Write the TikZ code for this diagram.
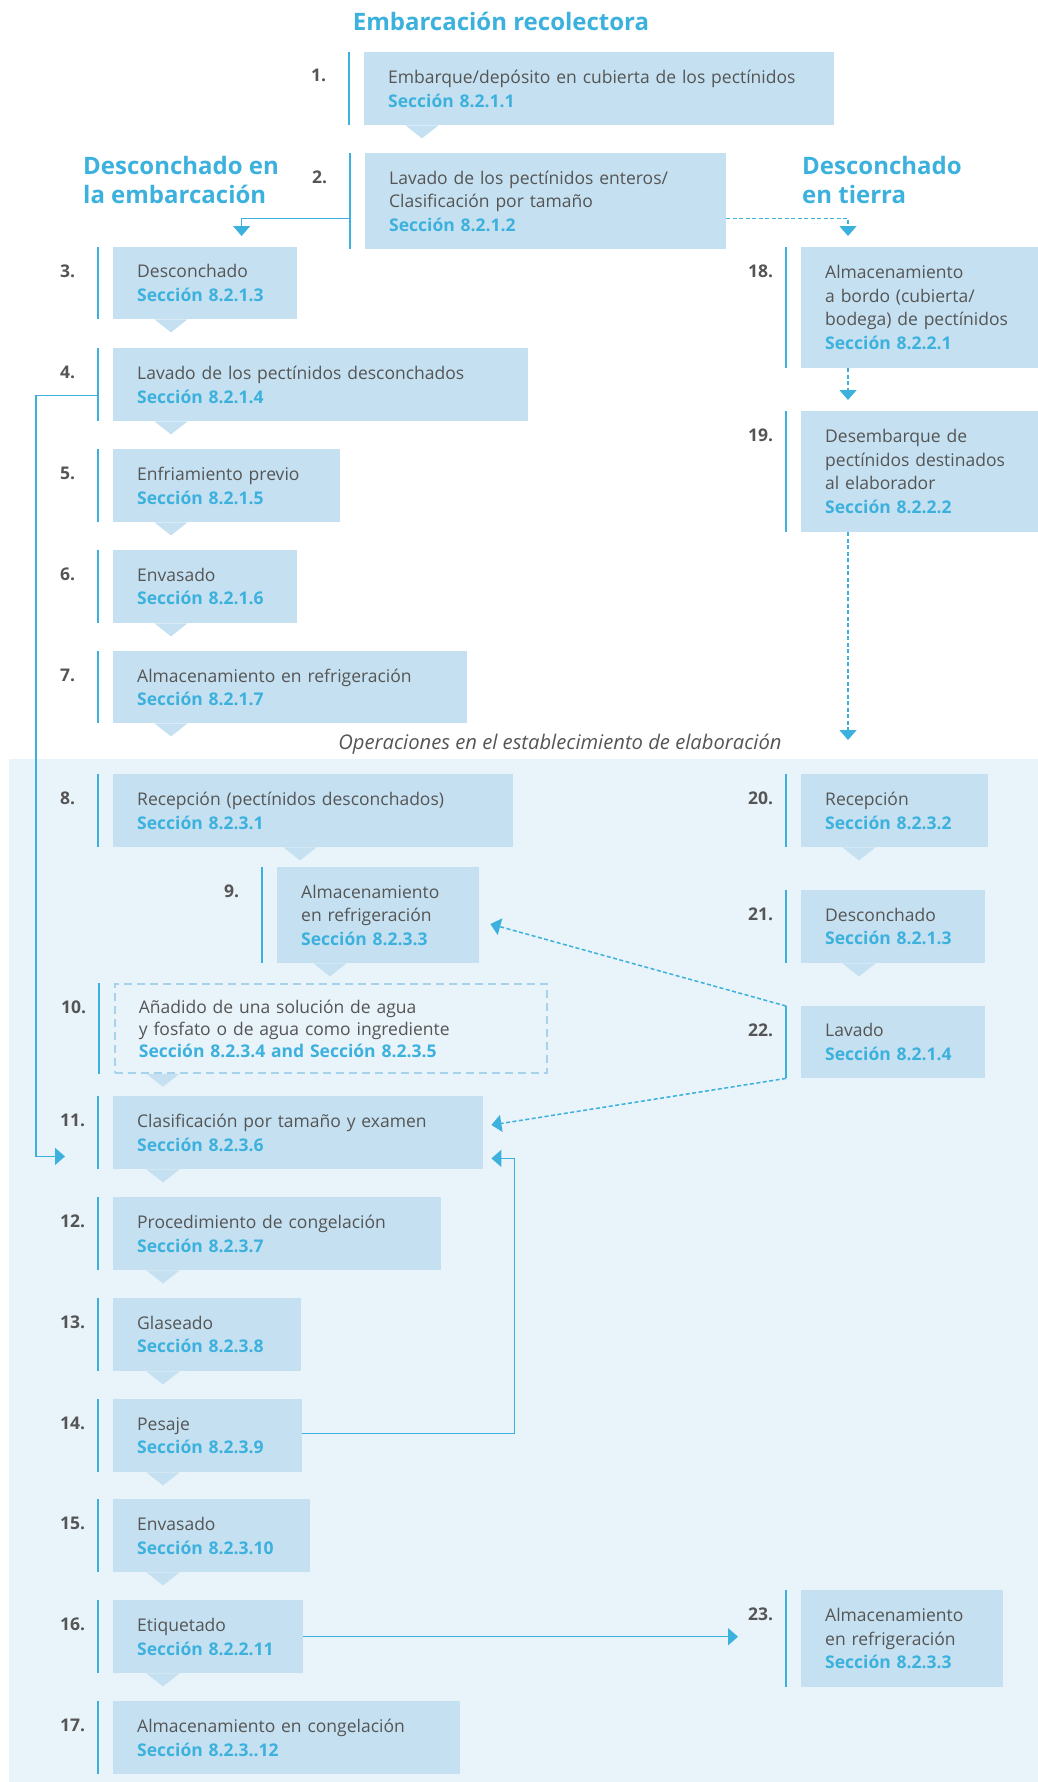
\documentclass[tikz,border=0pt]{standalone}
\usepackage{fontspec}
\setmainfont{Open Sans}
\usetikzlibrary{positioning,arrows.meta,calc}
\definecolor{scyan}{HTML}{3DB1DD}
\definecolor{sbox}{HTML}{C5E1F1}
\definecolor{sback}{HTML}{E8F3FA}
\definecolor{sink}{HTML}{555555}
\definecolor{sdash}{HTML}{A6D2EC}
\newcommand\seccion[1]{{\bfseries\color{scyan}Sección #1}}
\tikzset{
  stepbox/.style ={anchor=north west, fill=sbox, inner xsep=24pt, inner ysep=6pt,
                   minimum height=73pt, align=left, text=sink,
                   font=\fontsize{17.5}{23.5}\selectfont},
  dashbox/.style ={stepbox, fill=none, draw=sdash, line width=1.8pt,
                   dash pattern=on 8pt off 5pt, font=\fontsize{17.5}{22}\selectfont},
  num/.style     ={anchor=base west, inner sep=0pt, text=sink,
                   font=\fontsize{17.5}{20}\selectfont\bfseries},
  head/.style    ={inner sep=0pt, align=left, text=scyan,
                   font=\fontsize{24}{29}\selectfont\bfseries},
  note/.style    ={inner sep=0pt, text=sink, font=\fontsize{20.2}{22}\selectfont\itshape},
  bar/.style     ={draw=scyan, line width=2pt},
  flow/.style    ={-{Triangle[width=17pt,length=10pt]}, draw=scyan, line width=1.5pt},
  dflow/.style   ={flow, dash pattern=on 4pt off 2.5pt},
}

\begin{document}
\begin{tikzpicture}[x=1pt,y=-1pt]
  \useasboundingbox (0,0) rectangle (1038,1782);
  \fill[sback] (9,759) rectangle (1038,1782);

  % headings
  \node[head] (tship) at (501,21) {Embarcación recolectora};
  \node[head, anchor=west] (tboard) at (83,180) {Desconchado en\\la embarcación};
  \node[head, anchor=west] (tland) at (802,180) {Desconchado\\en tierra};
  \node[note] (tplant) at (560,744) {Operaciones en el establecimiento de elaboración};

  % on board
  \node[stepbox, text width=422pt] (s1) at (364,52) {Embarque/depósito en cubierta de los pectínidos\\\seccion{8.2.1.1}};
  \node[stepbox, text width=313pt, minimum height=96pt] (s2) at (365,153) {Lavado de los pectínidos enteros/\\Clasificación por tamaño\\\seccion{8.2.1.2}};
  \node[stepbox, text width=136pt, minimum height=72pt] (s3) at (113,247) {Desconchado\\\seccion{8.2.1.3}};
  \node[stepbox, text width=367pt] (s4) at (113,348) {Lavado de los pectínidos desconchados\\\seccion{8.2.1.4}};
  \node[stepbox, text width=179pt] (s5) at (113,449) {Enfriamiento previo\\\seccion{8.2.1.5}};
  \node[stepbox, text width=136pt] (s6) at (113,550) {Envasado\\\seccion{8.2.1.6}};
  \node[stepbox, text width=306pt, minimum height=72pt] (s7) at (113,651) {Almacenamiento en refrigeración\\\seccion{8.2.1.7}};

  % processing plant
  \node[stepbox, text width=352pt] (s8) at (113,774) {Recepción (pectínidos desconchados)\\\seccion{8.2.3.1}};
  \node[stepbox, text width=154pt, minimum height=96pt] (s9) at (277,867) {Almacenamiento\\en refrigeración\\\seccion{8.2.3.3}};
  \node[dashbox, text width=384pt, minimum height=89pt] (s10) at (114,983) {Añadido de una solución de agua\\y fosfato o de agua como ingrediente\\\seccion{8.2.3.4 and Sección 8.2.3.5}};
  \node[stepbox, text width=322pt] (s11) at (113,1096) {Clasificación por tamaño y examen\\\seccion{8.2.3.6}};
  \node[stepbox, text width=280pt] (s12) at (113,1197) {Procedimiento de congelación\\\seccion{8.2.3.7}};
  \node[stepbox, text width=140pt] (s13) at (113,1298) {Glaseado\\\seccion{8.2.3.8}};
  \node[stepbox, text width=141pt] (s14) at (113,1399) {Pesaje\\\seccion{8.2.3.9}};
  \node[stepbox, text width=149pt] (s15) at (113,1499) {Envasado\\\seccion{8.2.3.10}};
  \node[stepbox, text width=142pt] (s16) at (113,1600) {Etiquetado\\\seccion{8.2.2.11}};
  \node[stepbox, text width=299pt] (s17) at (113,1701) {Almacenamiento en congelación\\\seccion{8.2.3..12}};

  % shucking on land
  \node[stepbox, text width=212pt, minimum height=121pt] (s18) at (801,247) {Almacenamiento\\a bordo (cubierta/\\bodega) de pectínidos\\\seccion{8.2.2.1}};
  \node[stepbox, text width=212pt, minimum height=121pt] (s19) at (801,411) {Desembarque de\\pectínidos destinados\\al elaborador\\\seccion{8.2.2.2}};
  \node[stepbox, text width=139pt] (s20) at (801,774) {Recepción\\\seccion{8.2.3.2}};
  \node[stepbox, text width=136pt] (s21) at (801,890) {Desconchado\\\seccion{8.2.1.3}};
  \node[stepbox, text width=136pt, minimum height=72pt] (s22) at (801,1006) {Lavado\\\seccion{8.2.1.4}};
  \node[stepbox, text width=154pt, minimum height=97pt] (s23) at (801,1590) {Almacenamiento\\en refrigeración\\\seccion{8.2.3.3}};

  % side bars and step numbers
  \foreach \k in {1,...,23} {
    \draw[bar] ([xshift=-15pt]s\k.north west) -- ([xshift=-15pt]s\k.south west);
    \node[num] (n\k) at ([xshift=-53pt,yshift=-30pt]s\k.north west) {\k.};
  }

  % pointers under the boxes
  \foreach \s/\d in {s1/58,s3/58,s4/58,s5/58,s6/58,s7/58,s8/187,s9/53,s10/49,
                     s11/50,s12/50,s13/50,s14/50,s15/50,s16/50,s20/58,s21/58}
    \fill[sbox] ([xshift={(\d-16.5)*1pt}]\s.south west) -- ++(16.5pt,-13pt) -- ++(16.5pt,13pt) -- cycle;

  % connectors
  \coordinate (a3) at ([xshift=128.6pt,yshift=11pt]s3.north west);
  \coordinate (a18) at ([xshift=47pt,yshift=11pt]s18.north west);
  \coordinate (a19) at ([xshift=47pt,yshift=11pt]s19.north west);
  \coordinate (a20) at ([xshift=47pt,yshift=34pt]s20.north west);
  \coordinate (a23) at ([xshift=-63pt]s23.west);
  \draw[flow] ([xshift=-15pt,yshift=31pt]s2.south west) -| (a3);
  \draw[dflow] ([yshift=31pt]s2.south east) -| (a18);
  \draw[dflow] ([xshift=47pt]s18.south west) -- (a19);
  \draw[dflow] ([xshift=47pt]s19.south west) -- (a20);
  \draw[flow] ([xshift=-15pt,yshift=26pt]s4.south west) -- ++(-62pt,0pt) |- ([xshift=-48pt,yshift=13pt]s11.south west);
  \draw[dflow] ([xshift=-15pt]s22.north west) -- ([xshift=11pt,yshift=-57pt]s9.north east);
  \draw[dflow] ([xshift=-15pt]s22.south west) -- ([xshift=8pt,yshift=-29pt]s11.north east);
  \draw[flow] ([yshift=2pt]s14.east) -- ++(212pt,0pt) |- ([xshift=8pt,yshift=11pt]s11.south east);
  \draw[flow] (s16.east) -- (s16.east -| a23);
\end{tikzpicture}
\end{document}
